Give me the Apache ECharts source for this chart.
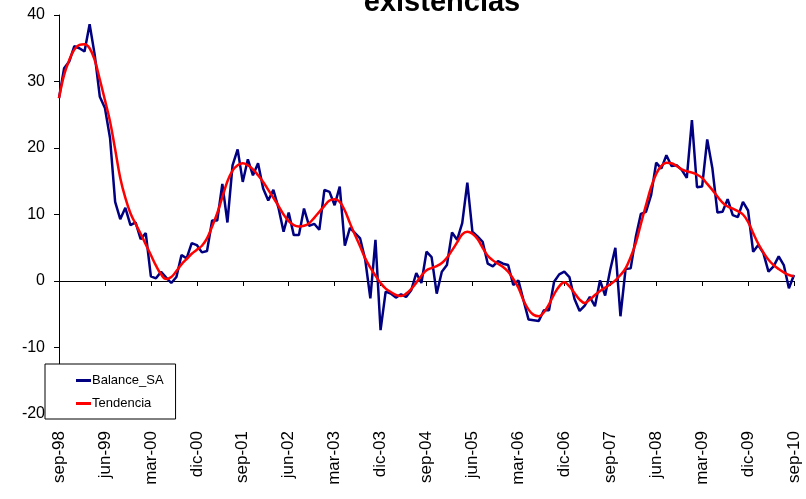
<!DOCTYPE html>
<html>
<head>
<meta charset="utf-8">
<title>existencias</title>
<script src="https://cdn.jsdelivr.net/npm/echarts@6/dist/echarts.min.js"></script>
<style>
  html, body { margin: 0; padding: 0; background: #fff; }
  #chart { width: 806px; height: 499px; }
</style>
</head>
<body>
<div id="chart"></div>
<script>
const monthNames = ['ene', 'feb', 'mar', 'abr', 'may', 'jun', 'jul', 'ago', 'sep', 'oct', 'nov', 'dic'];

// sep-98 .. sep-10, monthly
const categories = [];
for (let k = 0; k < 145; k++) {
  const m = (8 + k) % 12;
  const y = 1998 + Math.floor((8 + k) / 12);
  categories.push(monthNames[m] + '-' + String(y).slice(2));
}

const balanceSA = [
  27.5, 32.0, 33.0, 35.3, 35.0, 34.5, 38.6, 34.0, 27.7, 26.0,
  21.5, 11.9, 9.3, 11.0, 8.4, 8.8, 6.3, 7.2, 0.7, 0.4,
  1.4, 0.5, -0.3, 0.6, 3.9, 3.4, 5.7, 5.4, 4.3, 4.5,
  9.1, 9.1, 14.6, 8.8, 17.4, 19.8, 14.9, 18.3, 15.9, 17.7,
  13.9, 12.1, 13.7, 11.0, 7.4, 10.3, 6.9, 6.9, 10.9, 8.3,
  8.6, 7.7, 13.7, 13.4, 11.4, 14.2, 5.3, 8.0, 7.2, 6.4,
  3.2, -2.6, 6.2, -7.4, -1.6, -1.9, -2.5, -2.0, -2.4, -1.4,
  1.2, -0.3, 4.4, 3.6, -1.9, 1.4, 2.4, 7.3, 6.2, 8.7,
  14.8, 7.4, 6.7, 5.9, 2.6, 2.2, 3.0, 2.6, 2.4, -0.6,
  0.1, -2.9, -5.8, -5.9, -6.0, -4.4, -4.4, -0.1, 1.0, 1.4,
  0.6, -2.7, -4.5, -3.7, -2.4, -3.8, 0.1, -2.2, 1.7, 5.0,
  -5.3, 1.8, 1.9, 6.6, 10.1, 10.4, 12.9, 17.8, 16.9, 18.9,
  17.3, 17.4, 16.7, 15.5, 24.2, 14.1, 14.2, 21.3, 17.0, 10.3,
  10.4, 12.3, 9.9, 9.6, 11.9, 10.6, 4.4, 5.4, 4.2, 1.4,
  2.2, 3.7, 2.4, -1.1, 0.9
];

const tendencia = [
  27.5, 31.0, 33.2, 34.8, 35.5, 35.6, 35.0, 33.2, 30.3, 27.2,
  24.0, 19.8, 15.5, 12.5, 10.2, 8.6, 7.1, 5.5, 3.9, 2.3,
  1.0, 0.3, 0.6, 1.5, 2.5, 3.3, 4.1, 4.7, 5.3, 6.4,
  8.2, 10.2, 12.6, 15.0, 16.6, 17.4, 17.7, 17.4, 16.8, 15.9,
  14.9, 13.7, 12.5, 11.3, 10.0, 9.0, 8.4, 8.2, 8.3, 8.7,
  9.5, 10.4, 11.3, 12.1, 12.3, 11.9, 10.6, 8.7, 6.9, 5.2,
  3.4, 2.0, 0.8, -0.3, -1.15, -1.65, -2.1, -2.25, -1.9, -1.2,
  -0.25, 0.8, 1.6, 1.95, 2.25, 2.7, 3.5, 4.6, 5.8, 7.0,
  7.4, 7.1, 6.3, 5.0, 3.8, 3.1, 2.6, 2.1, 1.4, 0.3,
  -1.0, -2.9, -4.3, -5.1, -5.3, -4.7, -3.5, -2.0, -0.8, -0.2,
  -0.8, -1.8, -2.8, -3.3, -2.8, -2.1, -1.5, -1.0, -0.5, 0.1,
  0.9, 1.9, 3.6, 5.7, 8.6, 11.4, 14.1, 16.1, 17.3, 17.8,
  17.7, 17.3, 16.8, 16.5, 16.3, 16.0, 15.5, 14.6, 13.7, 12.7,
  11.8, 11.2, 10.9, 10.5, 10.0, 8.9, 7.2, 5.6, 4.3, 3.2,
  2.4, 1.8, 1.3, 0.9, 0.7
];

const yTicks = { min: -20, max: 40, interval: 10 };

const chart = echarts.init(document.getElementById('chart'));

const font = "'Liberation Sans', Arial, sans-serif";

chart.setOption({
  backgroundColor: '#fff',
  animation: false,
  graphic: [{
    type: 'text',
    x: 442,
    y: 3,
    style: {
      text: 'existencias',
      align: 'center',
      verticalAlign: 'middle',
      fill: '#000',
      font: "bold 29px 'Liberation Sans', Arial, sans-serif"
    }
  }],
  grid: {
    left: 59,
    right: 12,
    top: 15,
    bottom: 85
  },
  legend: {
    orient: 'vertical',
    left: 45,
    top: 364,
    padding: [10, 12, 9, 31],
    itemGap: 10,
    itemWidth: 15,
    itemHeight: 3,
    icon: 'rect',
    backgroundColor: '#fff',
    borderColor: '#000',
    borderWidth: 1,
    borderRadius: 0,
    textStyle: {
      color: '#000',
      fontSize: 13,
      fontFamily: "'Liberation Sans Narrow', 'Liberation Sans', Arial, sans-serif",
      padding: [0, 0, 0, -4]
    },
    data: ['Balance_SA', 'Tendencia']
  },
  xAxis: [
    {
      type: 'category',
      data: categories,
      boundaryGap: false,
      axisLine: { show: true, onZero: true, lineStyle: { color: '#000', width: 1 } },
      axisTick: { show: true, interval: 8, length: 5, lineStyle: { color: '#000' } },
      axisLabel: { show: false },
      splitLine: { show: false }
    },
    {
      type: 'category',
      data: categories,
      boundaryGap: false,
      position: 'bottom',
      axisLine: { show: false, onZero: false },
      axisTick: { show: false },
      axisLabel: {
        show: true,
        interval: 8,
        rotate: 90,
        margin: 17,
        color: '#000',
        fontSize: 17,
        fontFamily: font
      },
      splitLine: { show: false }
    }
  ],
  yAxis: {
    type: 'value',
    min: yTicks.min,
    max: yTicks.max,
    interval: yTicks.interval,
    axisLine: { show: true, onZero: false, lineStyle: { color: '#000', width: 1 } },
    axisTick: { show: true, length: 5, lineStyle: { color: '#000' } },
    axisLabel: { color: '#000', fontSize: 16, fontFamily: font, margin: 14 },
    splitLine: { show: false }
  },
  series: [
    {
      name: 'Balance_SA',
      type: 'line',
      data: balanceSA,
      symbol: 'none',
      lineStyle: { color: '#000080', width: 2.5 },
      itemStyle: { color: '#000080' }
    },
    {
      name: 'Tendencia',
      type: 'line',
      data: tendencia,
      symbol: 'none',
      smooth: 0.4,
      lineStyle: { color: '#ff0000', width: 2.5 },
      itemStyle: { color: '#ff0000' }
    }
  ]
});
</script>
</body>
</html>
